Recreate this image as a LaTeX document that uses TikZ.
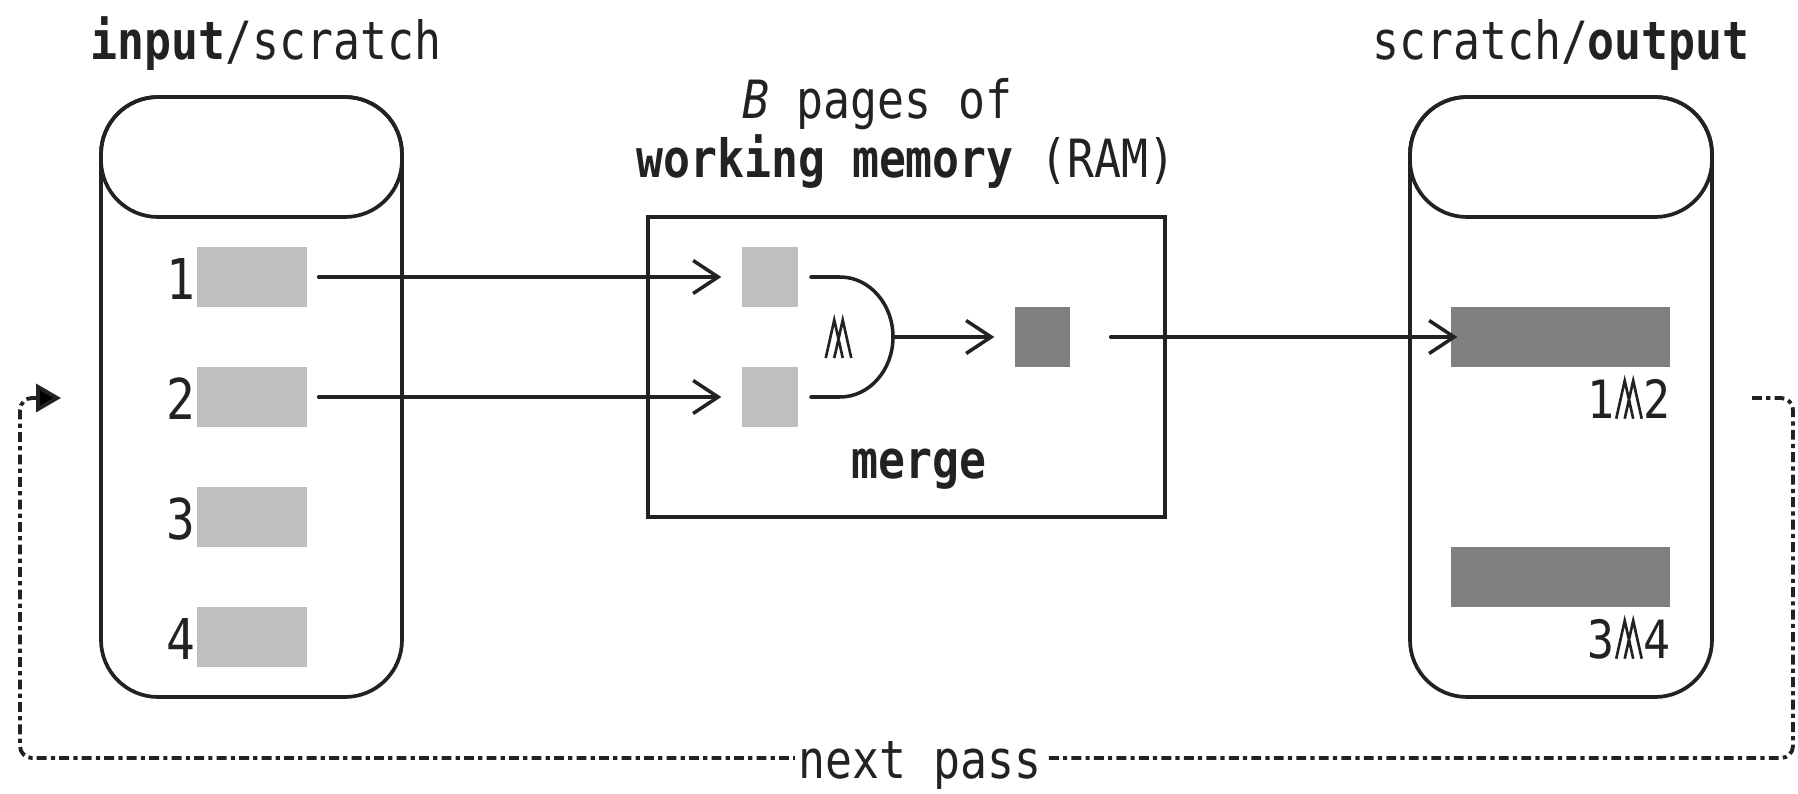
\documentclass[tikz,border=0pt]{standalone}
\usepackage{fontspec}
\setmainfont{DejaVu Sans Mono}[FakeStretch=0.85,BoldFont={DejaVu Sans Mono Bold},ItalicFont={DejaVu Sans Mono Oblique}]
\usetikzlibrary{arrows.meta,positioning}
\definecolor{ink}{HTML}{222222}
\definecolor{pagegray}{HTML}{BFBFBF}
\definecolor{rungray}{HTML}{808080}
% two intersecting wedges (no installed font has U+2A55)
\newcommand{\mrg}{\tikz[baseline=0pt]{\path (0,0) -- (0.275,0);
  \draw[ink,line width=0.75pt,line join=miter] (0.01,0) -- (0.095,0.38) -- (0.18,0) (0.095,0) -- (0.18,0.38) -- (0.265,0);}}
\tikzset{
  every node/.style={text=ink,font=\fontsize{15}{18}\selectfont},
  disk/.style={draw=ink,line width=1.05pt,rounded corners=0.57cm},
  page/.style={fill=pagegray,minimum width=1.1cm,minimum height=0.6cm,inner sep=0pt},
  run/.style={fill=rungray,minimum width=2.19cm,minimum height=0.6cm,inner sep=0pt},
  flow/.style={draw=ink,line width=1pt,line cap=round,-{Straight Barb[length=2.5mm,width=3.3mm]}},
  nextpass/.style={draw=ink,line width=1.1pt,dash pattern=on 2.8pt off 1.2pt on 1.2pt off 1.2pt,rounded corners=0.12cm,-{Triangle[length=2.5mm,width=2.8mm]}}
}
\begin{document}
\begin{tikzpicture}
  \useasboundingbox (0,0) rectangle (17.98,-7.94);
  % disks
  \draw[disk] (1.01,-0.97) rectangle (4.02,-6.97);
  \draw[disk] (1.01,-0.97) rectangle (4.02,-2.17);
  \draw[disk] (14.10,-0.97) rectangle (17.12,-6.97);
  \draw[disk] (14.10,-0.97) rectangle (17.12,-2.17);
  \node[anchor=base] (intitle) at (2.66,-0.60) {\textbf{input}/scratch};
  \node[anchor=base] (outtitle) at (15.61,-0.60) {scratch/\textbf{output}};

  % input pages
  \foreach \i in {1,...,4} {
    \node[page] (p\i) at (2.52,{-2.77-1.2*(\i-1)}) {};
    \node[anchor=base east,inner sep=0pt,font=\fontsize{16}{18}\selectfont] (n\i) at ([yshift=0.08cm]p\i.south west) {\i};
  }

  % working memory
  \node[draw=ink,line width=1.05pt,minimum width=5.17cm,minimum height=3cm,inner sep=0pt] (ram) at (9.065,-3.67) {};
  \node[anchor=base] (ramtop) at (8.775,-1.19) {\textit{B} pages of};
  \node[anchor=base] (ramsub) at (9.06,-1.78) {\textbf{working memory} (RAM)};
  \node[page,minimum width=0.56cm] (b1) at (7.70,-2.77) {};
  \node[page,minimum width=0.56cm] (b2) at (7.70,-3.97) {};
  \node[run,minimum width=0.55cm] (o) at (10.425,-3.37) {};
  \draw[draw=ink,line width=1pt,line cap=round] ([xshift=0.12cm]b1.east) -- (8.40,-2.77)
    arc[start angle=90,end angle=-90,x radius=0.53cm,y radius=0.6cm] -- ([xshift=0.12cm]b2.east);
  \coordinate (g) at (8.93,-3.37);
  \node[inner sep=0pt] (msym) at (8.385,-3.39) {\mrg};
  \node[anchor=base] (mlabel) at (9.19,-4.78) {\textbf{merge}};

  % output runs
  \node[run] (r1) at (15.605,-3.37) {};
  \node[run] (r2) at (15.605,-5.77) {};
  \node[anchor=base east,inner sep=0pt] (m12) at ([yshift=-0.51cm]r1.south east) {1\mrg2};
  \node[anchor=base east,inner sep=0pt] (m34) at ([yshift=-0.51cm]r2.south east) {3\mrg4};

  % arrows
  \draw[flow] ([xshift=0.11cm]p1.east) -- ([xshift=-0.2cm]b1.west);
  \draw[flow] ([xshift=0.11cm]p2.east) -- ([xshift=-0.2cm]b2.west);
  \draw[flow] (g) -- ([xshift=-0.2cm]o.west);
  \draw[flow] ([xshift=0.4cm]o.east) -- ([xshift=0.07cm]r1.west);

  % next pass
  \coordinate (loopstart) at (17.52,-3.98);
  \coordinate (loopend) at (0.61,-3.98);
  \draw[nextpass] (loopstart) -- (17.93,-3.98) -- (17.93,-7.58) -- (0.20,-7.58) -- (0.20,-3.98) -- (loopend);
  \node[fill=white,inner ysep=0pt,inner xsep=1pt,anchor=base] (pass) at (9.20,-7.78) {next pass};
\end{tikzpicture}
\end{document}
